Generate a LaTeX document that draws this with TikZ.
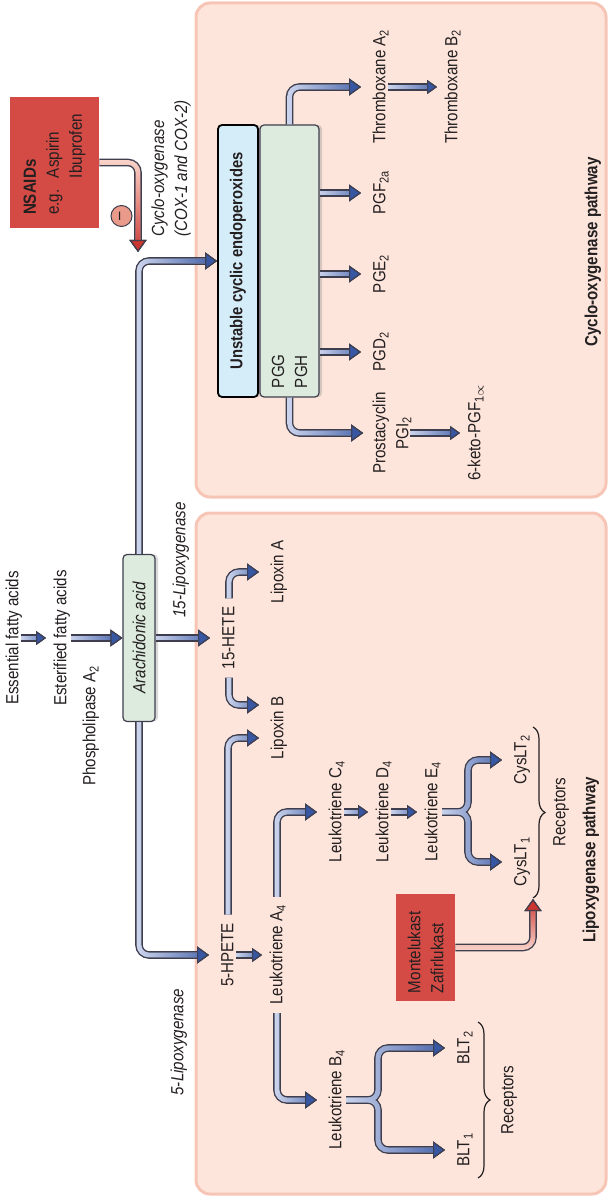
\documentclass[tikz,border=0pt]{standalone}
\usepackage{fontspec}
\setmainfont{Liberation Sans}[FakeStretch=0.86]
\usetikzlibrary{positioning}
\usetikzlibrary{arrows.meta}
\usetikzlibrary{calc}
\usetikzlibrary{fadings}
\usetikzlibrary{shadows}
\usetikzlibrary{decorations.pathreplacing}

\definecolor{panelfill}{HTML}{FDE5DB}
\definecolor{paneledge}{HTML}{F7C5B5}
\definecolor{drugred}{HTML}{D44B46}
\definecolor{minusfill}{HTML}{E99A8B}
\definecolor{tubeedge}{HTML}{3E3E4E}
\definecolor{tubepale}{HTML}{CED6EE}
\definecolor{tubeblue}{HTML}{3757A3}
\definecolor{tubepink}{HTML}{F9D3C9}
\definecolor{tubered}{HTML}{CC3630}
\definecolor{boxgreen}{HTML}{DCEBDD}
\definecolor{boxblue}{HTML}{D5ECF9}
\definecolor{ink}{HTML}{231F20}

\newcommand\diagfont{\fontsize{8.8}{11.5}\selectfont}
\newcommand\lowsub[1]{\raisebox{-1.6pt}{\fontsize{6.4}{7}\selectfont #1}}

\begin{document}
\begin{tikzpicture}[x=0.5pt, y=-0.5pt,
  every node/.style={font=\diagfont, text=ink},
  lbl/.style={rotate=90, inner xsep=4pt, inner ysep=0pt, text height=0.75em, text depth=0.21em},
  lbls/.style={rotate=90, inner xsep=4pt, inner ysep=0pt, align=center},
  enzyme/.style={lbl, font=\diagfont\itshape},
  enzymes/.style={lbls, align=left, font=\diagfont\itshape},
  pathway/.style={lbl, font=\diagfont\bfseries},
  panel/.style={fill=panelfill, draw=paneledge, line width=1.5pt, rounded corners=7pt},
  boxshadow/.style={drop shadow={shadow xshift=1.5pt, shadow yshift=0pt, opacity=0.3}},
  acidbox/.style={rotate=90, fill=boxgreen, draw=tubeedge, line width=0.6pt, rounded corners=2pt,
    minimum width=83.5pt, minimum height=16pt, inner sep=0pt, font=\diagfont\itshape, boxshadow},
  endobox/.style={rotate=90, fill=boxblue, draw=black, line width=0.9pt, rounded corners=2pt,
    minimum width=136pt, minimum height=20pt, inner sep=0pt, font=\diagfont\bfseries, boxshadow},
  pgbox/.style={rotate=90, fill=boxgreen, draw=tubeedge, line width=0.6pt, rounded corners=2pt,
    minimum width=136pt, minimum height=29.5pt, inner xsep=4.5pt, text width=127pt, align=left, boxshadow},
  drugbox/.style={rotate=90, fill=drugred, align=left, inner ysep=0pt},
  bluehead/.tip={Triangle[length=6pt, width=8.5pt, line width=0.6pt, fill=tubeblue, color=tubeedge]},
  smallhead/.tip={Triangle[length=5pt, width=7pt, line width=0.6pt, fill=tubeblue, color=tubeedge]},
  redhead/.tip={Triangle[length=6pt, width=8.5pt, line width=0.6pt, fill=tubered, color=tubeedge]},
  tube edge/.style={draw=tubeedge, line width=3.8pt, rounded corners=5pt, -bluehead},
  tube core/.style={draw=tubepale, line width=2.4pt, rounded corners=5pt, -bluehead,
    postaction={draw=tubeblue, line width=2.4pt, -bluehead, path fading=west}},
  tube/.style={tube core, preaction={tube edge}, shorten >=4.5pt},
  chain/.style={draw=tubepale, line width=2.4pt, -smallhead,
    preaction={draw=tubeedge, line width=3.8pt, -smallhead},
    postaction={draw=tubeblue, line width=2.4pt, -smallhead, path fading=west},
    shorten >=2.5pt, shorten <=-1pt},
  fork edge/.style={tube edge, shorten >=4.5pt},
  fork core/.style={tube core, shorten >=4.5pt},
  red tube/.style={draw=tubepink, line width=2.4pt, rounded corners=5pt, -redhead,
    preaction={draw=tubeedge, line width=3.8pt, -redhead},
    postaction={draw=tubered, line width=2.4pt, -redhead, path fading=#1}},
  receptor brace/.style={decorate, decoration={brace, amplitude=6pt}, draw=ink, line width=0.6pt}
]
  \useasboundingbox (0,0) rectangle (608,1197);

  % pathway panels
  \draw[panel] (196,3) rectangle (606,497);
  \draw[panel] (196,513) rectangle (606,1194);

  % precursors
  \node[lbl] (essential) at (13,638) {Essential fatty acids};
  \node[lbl] (esterified) at (61,638) {Esterified fatty acids};
  \node[lbl] (pla) at (90,726) {Phospholipase A\lowsub{2}};
  \node[acidbox] (arach) at (139,638) {Arachidonic acid};

  % enzymes
  \node[enzymes, anchor=west] (cox) at (171,245) {Cyclo-oxygenase\\(COX-1 and COX-2)};
  \node[enzyme] (lox15) at (180,560) {15-Lipoxygenase};
  \node[enzyme] (lox5) at (178,1042) {5-Lipoxygenase};

  % cyclo-oxygenase side
  \node[endobox, font=\fontsize{8.6}{11.5}\selectfont\bfseries] (endo) at (238,261) {Unstable cyclic endoperoxides};
  \node[pgbox] (pg) at (289.5,261) {PGG\\PGH};
  \node[lbl] (txa) at (380,87) {Thromboxane A\lowsub{2}};
  \node[lbl] (txb) at (452,87) {Thromboxane B\lowsub{2}};
  \node[lbl] (pgf) at (380,193) {PGF\lowsub{2a}};
  \node[lbl] (pge) at (380,274) {PGE\lowsub{2}};
  \node[lbl] (pgd) at (380,352) {PGD\lowsub{2}};
  \node[lbls] (pgi) at (392,433) {Prostacyclin\\PGI\lowsub{2}};
  \node[lbl] (keto) at (475,433) {6-keto-PGF\lowsub{1$\propto$}};
  \node[pathway] (coxpath) at (592,252) {Cyclo-oxygenase pathway};

  % lipoxygenase side
  \node[lbl] (hete15) at (229,638) {15-HETE};
  \node[lbl] (lxa) at (278,572) {Lipoxin A};
  \node[lbl] (lxb) at (278,728) {Lipoxin B};
  \node[lbl] (hpete) at (228,955) {5-HPETE};
  \node[lbl] (lta) at (277,955) {Leukotriene A\lowsub{4}};
  \node[lbl] (ltc) at (336,812) {Leukotriene C\lowsub{4}};
  \node[lbl] (ltd) at (383,812) {Leukotriene D\lowsub{4}};
  \node[lbl] (lte) at (432,812) {Leukotriene E\lowsub{4}};
  \node[lbl] (cys2) at (521,760) {CysLT\lowsub{2}};
  \node[lbl] (cys1) at (521,862) {CysLT\lowsub{1}};
  \node[lbl] (ltb) at (336,1100) {Leukotriene B\lowsub{4}};
  \node[lbl] (blt2) at (464,1048) {BLT\lowsub{2}};
  \node[lbl] (blt1) at (464,1150) {BLT\lowsub{1}};
  \node[lbl] (cysrec) at (560,812) {Receptors};
  \node[lbl] (bltrec) at (508,1100) {Receptors};
  \node[pathway] (loxpath) at (590,860) {Lipoxygenase pathway};

  % drugs
  \node[drugbox, minimum width=65.5pt, minimum height=44.5pt, inner xsep=6.5pt, text width=52.5pt]
    (nsaid) at (54.5,162.5) {\textbf{NSAIDs}\\e.g.\ \ Aspirin\\\phantom{e.g.\ \ }Ibuprofen};
  \node[drugbox, minimum width=53.5pt, minimum height=29.5pt, inner xsep=4pt, text width=45.5pt]
    (mont) at (425.5,947.5) {Montelukast\\Zafirlukast};
  \node[circle, fill=minusfill, draw=tubeedge, line width=0.5pt, minimum size=10.5pt, inner sep=0pt, rotate=90]
    (minus) at (121.5,216) {--};

  \coordinate (coxin) at (138,252);
  \coordinate (brtip) at (533,899);
  \coordinate (cfork) at (468,812);
  \coordinate (bfork) at (378,1100);
  \coordinate (lxbtop) at ($(lxb.north)+(0,-23)$);
  \coordinate (lxbbot) at ($(lxb.north)+(0,10)$);

  % main trunk
  \draw[chain] (essential.south) -- (esterified.north);
  \draw[tube, shorten >=0pt] (esterified.south) -- (arach.north);
  \draw[tube] (arach.south) -- (hete15.north);
  \draw[tube, shorten >=0pt] (arach.east) |- (endo.north);
  \draw[tube] (arach.west) |- (hpete.north);

  % prostanoids
  \draw[tube] (pg.east) |- (txa.north);
  \draw[chain] (txa.south) -- (txb.north);
  \draw[tube] (pgf.north -| pg.south) -- (pgf.north);
  \draw[tube] (pge.north -| pg.south) -- (pge.north);
  \draw[tube] (pgd.north -| pg.south) -- (pgd.north);
  \draw[tube] (pg.west) |- (pgi.north);
  \draw[chain] (pgi.south) -- (keto.north);

  % lipoxins and leukotrienes
  \draw[tube] (hete15.east) |- (lxa.north);
  \draw[tube] (hete15.west) |- (lxbtop);
  \draw[tube] (hpete.east) |- (lxbbot);
  \draw[chain] (hpete.south) -- (lta.north);
  \draw[tube] (lta.east) |- (ltc.north);
  \draw[tube] (lta.west) |- (ltb.north);
  \draw[chain] (ltc.south) -- (ltd.north);
  \draw[chain] (ltd.south) -- (lte.north);

  % receptor forks
  \draw[fork edge] (lte.south) -- (cfork) |- (cys2.north);
  \draw[fork edge] (lte.south) -- (cfork) |- (cys1.north);
  \draw[fork core] (lte.south) -- (cfork) |- (cys2.north);
  \draw[fork core] (lte.south) -- (cfork) |- (cys1.north);
  \draw[fork edge] (ltb.south) -- (bfork) |- (blt2.north);
  \draw[fork edge] (ltb.south) -- (bfork) |- (blt1.north);
  \draw[fork core] (ltb.south) -- (bfork) |- (blt2.north);
  \draw[fork core] (ltb.south) -- (bfork) |- (blt1.north);

  \draw[receptor brace] (533,727) -- (533,898);
  \draw[receptor brace] (478,1022) -- (478,1178);

  % inhibition
  \draw[red tube=north] (nsaid.south) -| (coxin);
  \draw[red tube=south] (mont.south) -| (brtip);
\end{tikzpicture}
\end{document}
